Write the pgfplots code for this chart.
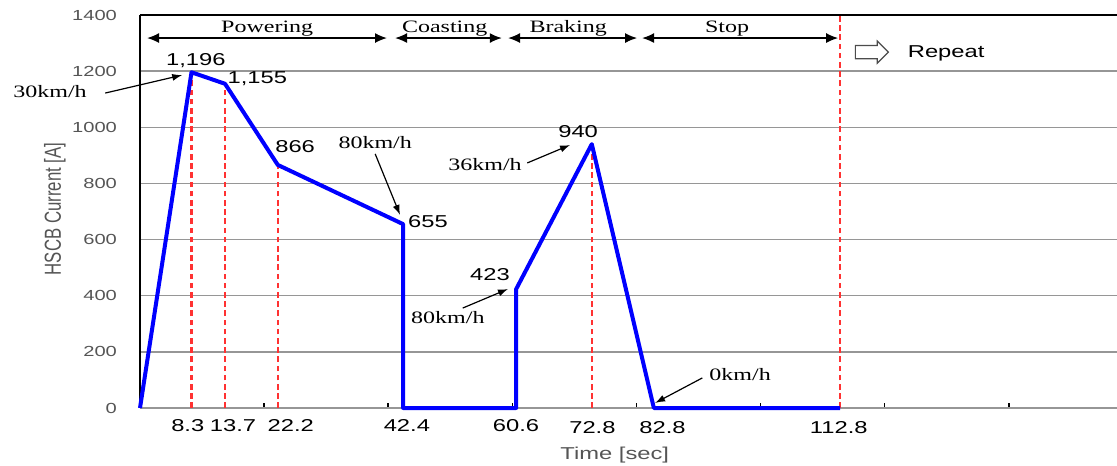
\documentclass[border=0pt]{standalone}
\usepackage{pgfplots}
\pgfplotsset{compat=1.18}
\usepackage{graphicx}
\usepackage{fontspec}
\setmainfont{Liberation Sans}
\usetikzlibrary{arrows.meta,shapes.arrows}
\newfontfamily\sw[FakeStretch=1.38]{Liberation Sans}
\newfontfamily\rw[FakeStretch=1.38]{Liberation Serif}
\newfontfamily\snormal{Liberation Sans}
\definecolor{lbl}{RGB}{85,85,85}
\definecolor{gridc}{RGB}{150,150,150}
\definecolor{rdash}{RGB}{255,50,50}
\newcommand\numf{\sw\fontsize{8.6}{9}\selectfont}
\newcommand\serf{\rw\fontsize{8.7}{9}\selectfont}
\begin{document}
\begin{tikzpicture}
\begin{axis}[
 x=3.103pt, y=0.14035pt,
 xmin=0, xmax=157.43, ymin=0, ymax=1400,
 axis x line*=bottom, axis y line*=left,
 x axis line style={draw=gridc, line width=0.75pt, -},
 y axis line style={draw=black, line width=0.75pt, -},
 xtick={20,40,...,140}, xticklabels={{},{},{},{},{},{},{}},
 xtick align=inside, major tick length=2.5pt,
 xtick style={black, line width=0.75pt},
 ytick={0,200,...,1400},
 ytick style={draw=none},
 ymajorgrids, grid style={gridc, line width=0.75pt},
 yticklabel style={font=\sw\fontsize{7.3}{8}\selectfont, text=lbl, xshift=-8pt},
 /pgf/number format/assume math mode=true,
 /pgf/number format/1000 sep={},
 clip=false,
]
% red dashed guide lines
\addplot[rdash, line width=1.1pt, dash pattern=on 2.8pt off 1.8pt] coordinates {(8.3,0) (8.3,1196)};
\addplot[rdash, line width=1.1pt, dash pattern=on 2.8pt off 1.8pt] coordinates {(13.7,0) (13.7,1155)};
\addplot[rdash, line width=1.1pt, dash pattern=on 2.8pt off 1.8pt] coordinates {(22.2,0) (22.2,866)};
\addplot[rdash, line width=1.1pt, dash pattern=on 2.8pt off 1.8pt] coordinates {(72.8,0) (72.8,940)};
\addplot[rdash, line width=1.1pt, dash pattern=on 2.8pt off 1.8pt] coordinates {(112.8,0) (112.8,1400)};
% current profile
\addplot[blue, line width=2pt, line join=round] coordinates {
 (0,0) (8.3,1196) (13.7,1155) (22.2,866) (42.4,655) (42.4,0)
 (60.6,0) (60.6,423) (72.8,940) (82.8,0) (112.8,0)};

% top border
\draw[black, line width=0.75pt] (axis cs:0,1400) -- (axis cs:157.43,1400);

% value labels
\node[font=\numf] at (axis cs:9.0,1236) {1,196};
\node[font=\numf] at (axis cs:18.9,1172) {1,155};
\node[font=\numf] at (axis cs:25.0,930) {866};
\node[font=\numf] at (axis cs:46.4,663) {655};
\node[font=\numf] at (axis cs:56.4,477) {423};
\node[font=\numf] at (axis cs:70.6,983) {940};

% x annotations
\node[font=\numf] at (axis cs:7.7,-64) {8.3};
\node[font=\numf] at (axis cs:15.0,-64) {13.7};
\node[font=\numf] at (axis cs:24.3,-64) {22.2};
\node[font=\numf] at (axis cs:43.0,-64) {42.4};
\node[font=\numf] at (axis cs:60.6,-64) {60.6};
\node[font=\numf] at (axis cs:72.9,-68) {72.8};
\node[font=\numf] at (axis cs:84.2,-68) {82.8};
\node[font=\numf] at (axis cs:112.6,-68) {112.8};

% axis titles
\node[font=\sw\fontsize{8.6}{9}\selectfont, text=lbl] at (axis cs:76.5,-167) {Time [sec]};
\node[rotate=90, text=lbl, inner sep=0pt] at (axis cs:-13.7,709) {\scalebox{1}[1.38]{\snormal\fontsize{8.4}{9}\selectfont HSCB Current [A]}};

% phase arrows
\begin{scope}[line width=0.75pt, {Latex[length=6pt,width=5pt]}-{Latex[length=6pt,width=5pt]}]
\draw (axis cs:1.13,1318) -- (axis cs:39.8,1318);
\draw (axis cs:41.1,1318) -- (axis cs:58.3,1318);
\draw (axis cs:59.3,1318) -- (axis cs:80.1,1318);
\draw (axis cs:80.9,1318) -- (axis cs:112.5,1318);
\end{scope}
\node[font=\serf] at (axis cs:20.5,1352) {Powering};
\node[font=\serf] at (axis cs:49.1,1352) {Coasting};
\node[font=\serf] at (axis cs:69.0,1352) {Braking};
\node[font=\serf] at (axis cs:94.6,1352) {Stop};

% repeat
\node[single arrow, draw=black!70, fill=white, line width=0.6pt, inner xsep=0pt, inner ysep=3pt,
 single arrow head extend=2.25pt, minimum height=16.5pt] at (axis cs:117.4,1268) {};
\node[font=\numf] at (axis cs:129.9,1265) {Repeat};

% speed annotations
\begin{scope}[line width=0.6pt, -{Latex[length=5pt,width=3.5pt]}]
\draw (axis cs:-5.6,1122) -- (axis cs:6.8,1186);
\draw (axis cs:37.9,905) -- (axis cs:41.9,688);
\draw (axis cs:62.4,873) -- (axis cs:69.3,937);
\draw (axis cs:52.0,356) -- (axis cs:59.3,424);
\draw (axis cs:90.6,107) -- (axis cs:83.0,18);
\end{scope}
\node[font=\serf] at (axis cs:-14.5,1128) {30km/h};
\node[font=\serf] at (axis cs:37.9,944) {80km/h};
\node[font=\serf] at (axis cs:55.6,869) {36km/h};
\node[font=\serf] at (axis cs:49.6,321) {80km/h};
\node[font=\serf] at (axis cs:96.7,118) {0km/h};

\coordinate (bbsw) at (axis cs:-22.56,-203.1);
\coordinate (bbne) at (axis cs:157.43,1453.5);
\end{axis}
\pgfresetboundingbox
\useasboundingbox (bbsw) rectangle (bbne);
\end{tikzpicture}
\end{document}
